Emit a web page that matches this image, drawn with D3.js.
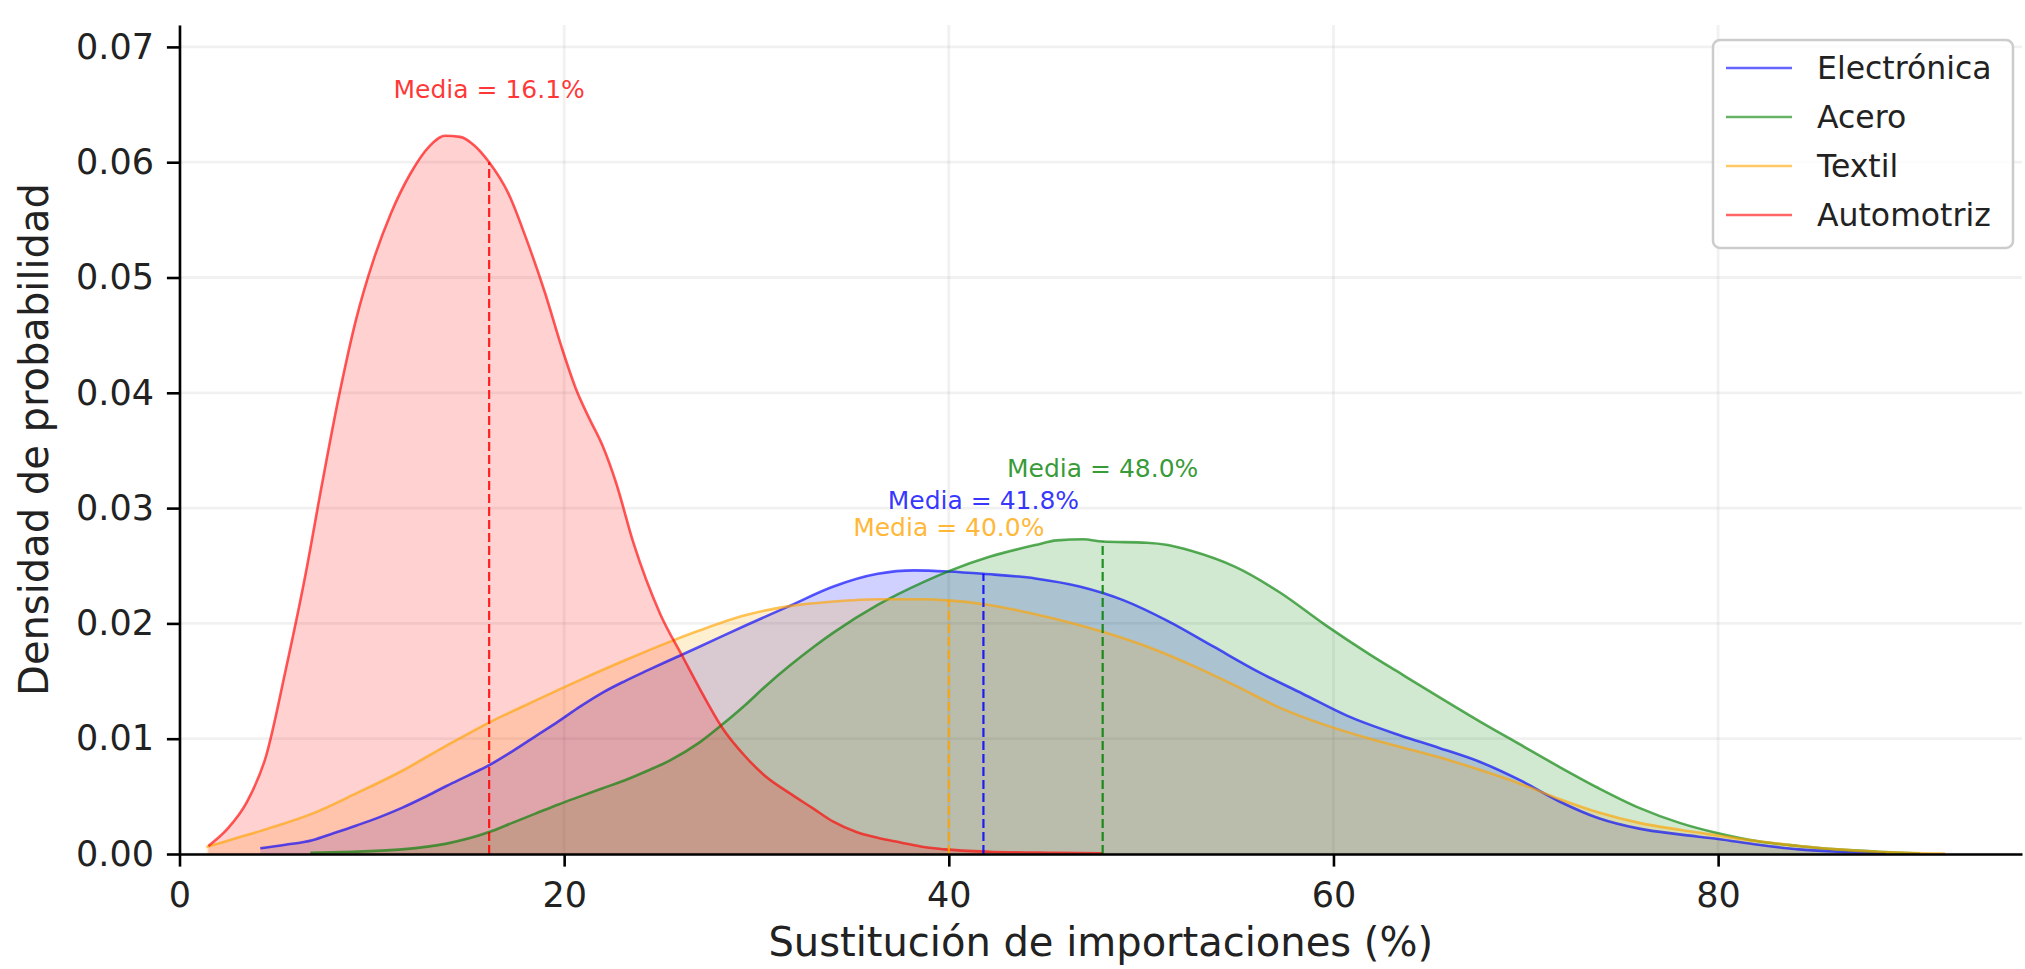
<!DOCTYPE html>
<html><head><meta charset="utf-8">
<script src="https://cdn.jsdelivr.net/npm/d3@7"></script>
<style>html,body{margin:0;padding:0;background:#fff;} svg{display:block;font-family:"DejaVu Sans",sans-serif;}</style>
</head><body><svg id="chart" width="2025" height="969"></svg>
<script>
// ---------------- DATA ----------------
const seriesNames = ["Electrónica", "Acero", "Textil", "Automotriz"];
const seriesColors = ["#0000ff", "#008000", "#ffa500", "#ff0000"];
const means = [41.8, 48.0, 40.0, 16.1];
const densityAtMean = [0.0243, 0.0271, 0.0220, 0.0600];
const xTicks = [0, 20, 40, 60, 80];
const yTicks = [0.00, 0.01, 0.02, 0.03, 0.04, 0.05, 0.06, 0.07];
const xLabel = "Sustitución de importaciones (%)";
const yLabel = "Densidad de probabilidad";

// density curves: [x, density]
const electronica = [[4.2,0.0005],[5.5,0.0008],[6.9,0.0012],[8.0,0.0018],[9.24,0.0025],[10.4,0.0032],[11.56,0.0040],[12.7,0.0049],[13.88,0.0059],[15.0,0.0068],[16.1,0.0077],[17.3,0.0089],[18.5,0.0102],[19.7,0.0115],[20.84,0.0128],[22.0,0.0140],[23.16,0.0150],[24.3,0.0159],[25.48,0.0168],[27.06,0.0180],[29.4,0.0198],[31.7,0.0215],[34.0,0.0232],[36.3,0.0243],[38.2,0.0246],[40.0,0.0245],[41.8,0.0243],[44.5,0.0239],[46.8,0.0232],[49.1,0.0220],[51.4,0.0202],[53.75,0.0180],[56.1,0.0158],[58.4,0.0139],[60.7,0.0120],[63.45,0.0103],[65.5,0.0092],[67.6,0.0080],[69.7,0.0064],[71.7,0.0046],[73.8,0.0031],[75.9,0.0022],[78.0,0.0017],[80.0,0.0013],[82.1,0.0008],[84.2,0.0004],[86.2,0.0002],[88.7,0.00005]];
const acero = [[6.8,0.0001],[9.0,0.0002],[11.56,0.0004],[13.88,0.0009],[16.1,0.0019],[17.3,0.0027],[18.5,0.0035],[19.7,0.0043],[20.84,0.0050],[22.0,0.0057],[23.16,0.0064],[24.3,0.0072],[25.48,0.0081],[27.06,0.0097],[28.2,0.0112],[29.4,0.0129],[30.5,0.0146],[31.7,0.0163],[33.0,0.0180],[34.0,0.0192],[36.3,0.0216],[38.7,0.0236],[40.1,0.0246],[42.15,0.0258],[44.5,0.0268],[45.6,0.0272],[47.0,0.0273],[48.0,0.0271],[50.3,0.0270],[51.4,0.0268],[52.6,0.0263],[54.9,0.0249],[57.2,0.0227],[59.55,0.0199],[61.9,0.0173],[63.45,0.0157],[65.5,0.0136],[67.6,0.0115],[69.7,0.0095],[71.7,0.0076],[73.8,0.0057],[75.9,0.0040],[78.0,0.0027],[80.0,0.0018],[82.1,0.0011],[84.2,0.0007],[86.2,0.0004],[88.3,0.0002],[90.5,0.00005]];
const textil = [[1.4,0.0006],[3.0,0.0014],[4.6,0.0022],[6.9,0.0035],[9.24,0.0053],[11.56,0.0072],[13.88,0.0094],[16.1,0.0114],[18.5,0.0133],[20.84,0.0151],[23.16,0.0168],[25.48,0.0184],[27.06,0.0194],[29.4,0.0207],[31.7,0.0215],[34.0,0.0219],[36.3,0.0221],[38.7,0.0221],[40.0,0.0220],[42.1,0.0216],[44.5,0.0208],[47.95,0.0193],[50.3,0.0180],[52.6,0.0164],[54.9,0.0146],[57.2,0.0127],[59.55,0.0112],[61.9,0.0100],[63.45,0.0093],[65.5,0.0084],[67.6,0.0073],[69.7,0.0061],[71.7,0.0048],[73.8,0.0036],[75.9,0.0027],[78.0,0.0021],[80.0,0.0016],[82.1,0.0011],[84.2,0.0007],[86.2,0.0004],[88.3,0.0002],[91.8,0.00003]];
const automotriz = [[1.5,0.0007],[2.5,0.0022],[3.5,0.0045],[4.5,0.0085],[5.5,0.0158],[6.5,0.0238],[7.4,0.0320],[8.3,0.0398],[9.2,0.0465],[10.1,0.0516],[11.0,0.0556],[12.0,0.0590],[13.0,0.0614],[13.8,0.0623],[14.6,0.0622],[15.3,0.0615],[16.1,0.0600],[17.1,0.0573],[18.0,0.0535],[19.0,0.0487],[19.9,0.0438],[20.6,0.0404],[21.3,0.0378],[22.0,0.0354],[22.7,0.0322],[23.6,0.0270],[25.0,0.0208],[26.2,0.0170],[27.06,0.0143],[28.2,0.0110],[29.4,0.0085],[30.5,0.0067],[31.7,0.0053],[32.9,0.0040],[34.0,0.0028],[35.2,0.0019],[36.3,0.0014],[37.5,0.0010],[38.7,0.0006],[39.8,0.0004],[42.1,0.0002],[45.6,0.0001],[48.0,0.00005]];
const seriesData = [electronica, acero, textil, automotriz];

// ---------------- LAYOUT ----------------
const svg = d3.select("#chart");
const x = d3.scaleLinear().domain([0, 95.8]).range([179.5, 2022]);
const y = d3.scaleLinear().domain([0, 0.0719]).range([854, 25]);

// grid
const grid = svg.append("g");
grid.selectAll("line.gx").data(xTicks).join("line")
  .attr("x1", d => x(d)).attr("x2", d => x(d)).attr("y1", y.range()[0]).attr("y2", y.range()[1])
  .attr("stroke", "#b0b0b0").attr("stroke-opacity", 0.18).attr("stroke-width", 2.8);
grid.selectAll("line.gy").data(yTicks).join("line")
  .attr("x1", x.range()[0]).attr("x2", x.range()[1]).attr("y1", d => y(d)).attr("y2", d => y(d))
  .attr("stroke", "#b0b0b0").attr("stroke-opacity", 0.18).attr("stroke-width", 2.8);

const area = d3.area().x(d => x(d[0])).y0(y(0)).y1(d => y(d[1])).curve(d3.curveMonotoneX);
const line = d3.line().x(d => x(d[0])).y(d => y(d[1])).curve(d3.curveMonotoneX);

// fills
seriesData.forEach((s, i) => {
  svg.append("path").datum(s).attr("d", area)
    .attr("fill", seriesColors[i]).attr("fill-opacity", 0.18).attr("stroke", "none");
});
// lines
seriesData.forEach((s, i) => {
  svg.append("path").datum(s).attr("d", line)
    .attr("fill", "none").attr("stroke", seriesColors[i]).attr("stroke-opacity", 0.65).attr("stroke-width", 2.6);
});
// mean lines and labels
means.forEach((m, i) => {
  svg.append("line")
    .attr("x1", x(m)).attr("x2", x(m)).attr("y1", y(0)).attr("y2", y(densityAtMean[i]))
    .attr("stroke", seriesColors[i]).attr("stroke-opacity", 0.85).attr("stroke-width", 2.2)
    .attr("stroke-dasharray", "9,4");
  svg.append("text")
    .attr("x", x(m)).attr("y", y(densityAtMean[i] + 0.005) - 7)
    .attr("text-anchor", "middle").attr("font-size", 25)
    .attr("fill", seriesColors[i]).attr("fill-opacity", 0.8)
    .text("Media = " + d3.format(".1f")(m) + "%");
});

// axes
const xAxis = svg.append("g").attr("transform", `translate(0,${y(0)})`)
  .call(d3.axisBottom(x).tickValues(xTicks).tickFormat(d3.format("d")).tickSize(12.6).tickSizeOuter(0).tickPadding(15.5));
const yAxis = svg.append("g").attr("transform", `translate(${x(0)},0)`)
  .call(d3.axisLeft(y).tickValues(yTicks).tickFormat(d3.format(".2f")).tickSize(12.6).tickSizeOuter(0).tickPadding(12.9));
[xAxis, yAxis].forEach(a => {
  a.select(".domain").attr("stroke", "#000").attr("stroke-width", 2.6);
  a.selectAll(".tick line").attr("stroke", "#000").attr("stroke-width", 2.6);
  a.selectAll(".tick text").attr("font-size", 35).attr("fill", "#222").attr("font-family", "DejaVu Sans");
});

svg.append("text").attr("x", (x.range()[0] + x.range()[1]) / 2).attr("y", 956)
  .attr("text-anchor", "middle").attr("font-size", 40).attr("fill", "#222").text(xLabel);
svg.append("text").attr("transform", `translate(48,${(y.range()[0] + y.range()[1]) / 2}) rotate(-90)`)
  .attr("text-anchor", "middle").attr("font-size", 40).attr("fill", "#222").text(yLabel);

// legend
const lg = svg.append("g");
lg.append("rect").attr("x", 1713).attr("y", 40).attr("width", 300).attr("height", 208).attr("rx", 7)
  .attr("fill", "#fff").attr("fill-opacity", 0.8).attr("stroke", "#cccccc").attr("stroke-width", 2.5);
seriesNames.forEach((n, i) => {
  const cy = 68 + i * 49;
  lg.append("line").attr("x1", 1726).attr("x2", 1792).attr("y1", cy).attr("y2", cy)
    .attr("stroke", seriesColors[i]).attr("stroke-opacity", 0.6).attr("stroke-width", 2.6);
  lg.append("text").attr("x", 1817).attr("y", cy).attr("dy", "0.35em")
    .attr("font-size", 31.5).attr("fill", "#222").text(n);
});
</script></body></html>
